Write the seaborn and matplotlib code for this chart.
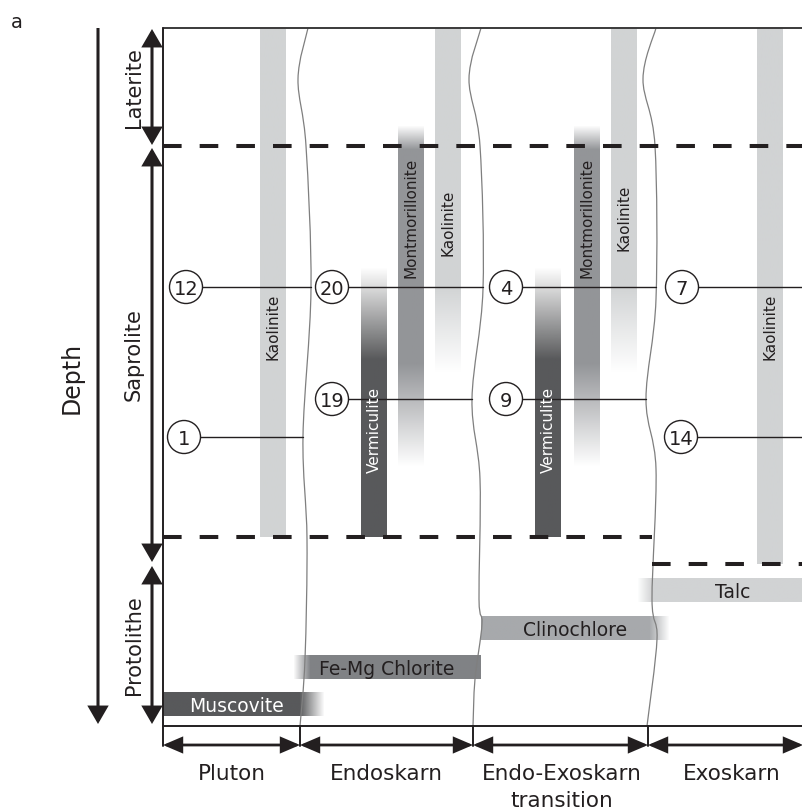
## Schematic of clay / chlorite minerals along a weathered skarn profile
import numpy as np
import matplotlib
matplotlib.use('Agg')
import matplotlib.pyplot as plt
import seaborn as sns
from matplotlib.patches import Circle, FancyArrowPatch, PathPatch
from matplotlib.path import Path
from matplotlib.colors import to_rgb

sns.set_style('white')
plt.rcParams['font.family'] = ['DejaVu Sans']
plt.rcParams['lines.scale_dashes'] = False

INK = '#231f20'

## zones along the bottom (x positions in px)
zone_names = ['Pluton', 'Endoskarn', 'Endo-Exoskarn\ntransition', 'Exoskarn']
zone_edges = [163, 300, 473, 648, 803]
zone_label_x = [232, 386, 562, 732]

## weathering layers (depth in px from top)
layer_names = ['Laterite', 'Saprolite', 'Protolithe']
layer_tops = [30, 149, 567]
layer_bottoms = [146, 563, 725]
layer_label_y = [88, 355, 645]

## wavy contacts between zones
contact_x = [
    [308, 298, 306, 311, 303, 307, 305, 300],
    [481, 469, 480, 483, 472, 480, 479, 482, 475, 473],
    [656, 643, 655, 656, 646, 656, 652, 657, 647],
]
contact_y = [
    [29, 80, 147, 290, 437, 540, 660, 727],
    [29, 80, 147, 290, 400, 480, 600, 625, 680, 727],
    [29, 80, 147, 300, 400, 470, 600, 640, 727],
]

## dashed layer limits
dash_y = [147, 538, 565]
dash_x0 = [163, 163, 652]
dash_x1 = [803, 652, 803]

## vertical mineral bars (depth stops with opacity)
vbar_names = ['Kaolinite', 'Vermiculite', 'Montmorillonite', 'Kaolinite',
              'Vermiculite', 'Montmorillonite', 'Kaolinite', 'Kaolinite']
vbar_left = [260, 361, 398, 435, 535, 574, 611, 757]
vbar_depth = [[29, 538], [268, 360, 538], [126, 150, 365, 468], [29, 288, 374],
              [268, 360, 538], [126, 150, 365, 468], [29, 288, 374], [29, 565]]
vbar_alpha = [[1, 1], [0, 1, 1], [0, 1, 1, 0], [1, 1, 0],
              [0, 1, 1], [0, 1, 1, 0], [1, 1, 0], [1, 1]]
vbar_color = ['#d1d3d4', '#58595b', '#939598', '#d1d3d4',
              '#58595b', '#939598', '#d1d3d4', '#d1d3d4']
vbar_text_color = [INK, 'white', INK, INK, 'white', INK, INK, INK]
vbar_text_y = [327, 430, 218, 223, 430, 218, 218, 327]

## horizontal mineral bars (x stops with opacity)
hbar_names = ['Muscovite', 'Fe-Mg Chlorite', 'Clinochlore', 'Talc']
hbar_top = [693, 656, 617, 579]
hbar_x = [[163, 300, 325], [293, 310, 481], [481, 650, 670], [637, 652, 803]]
hbar_alpha = [[1, 1, 0], [0, 1, 1], [1, 1, 0], [0, 1, 1]]
hbar_color = ['#58595b', '#808285', '#a7a9ac', '#d1d3d4']
hbar_text_color = ['white', INK, INK, INK]
hbar_text_x = [237, 387, 575, 733]

## sample points
sample_ids = ['12', '20', '4', '7', '19', '9', '1', '14']
sample_x = [186, 332, 506, 682, 332, 506, 184, 681]
sample_y = [288, 288, 288, 288, 400, 400, 438, 438]
sample_line_end = [311, 483, 656, 803, 472, 646, 303, 803]

BAR_W = 26
BAR_H = 24
R = 16.5


def catmull_path(xs, ys):
    pts = np.column_stack([xs, ys]).astype(float)
    verts = [pts[0]]
    codes = [Path.MOVETO]
    n = len(pts)
    for i in range(n - 1):
        p0 = pts[max(i - 1, 0)]
        p1 = pts[i]
        p2 = pts[i + 1]
        p3 = pts[min(i + 2, n - 1)]
        verts += [p1 + (p2 - p0) / 6, p2 - (p3 - p1) / 6, p2]
        codes += [Path.CURVE4] * 3
    return Path(verts, codes)


def arrow(ax, p0, p1, style, lw, hl, hw):
    ax.add_patch(FancyArrowPatch(p0, p1, arrowstyle=f'{style},head_length={hl},head_width={hw}',
                                 mutation_scale=1, lw=lw, color=INK, shrinkA=0, shrinkB=0,
                                 joinstyle='miter', capstyle='butt', zorder=6))


fig = plt.figure(figsize=(8.03, 8.12), dpi=100)
ax = fig.add_axes([0, 0, 1, 1])
ax.axis('off')

# vertical bars
for name, x0, dep, al, col, tcol, ty in zip(vbar_names, vbar_left, vbar_depth, vbar_alpha,
                                           vbar_color, vbar_text_color, vbar_text_y):
    ys = np.arange(dep[0], dep[-1] + 1)
    img = np.zeros((len(ys), 1, 4))
    img[..., :3] = to_rgb(col)
    img[:, 0, 3] = np.interp(ys, dep, al)
    ax.imshow(img, extent=[x0, x0 + BAR_W, dep[-1], dep[0]], origin='upper',
              aspect='auto', interpolation='bilinear', zorder=1)
    ax.text(x0 + BAR_W / 2, ty, name, rotation=90, ha='center', va='center',
            fontsize=11, color=tcol, zorder=5)

# horizontal bars
for name, top, xs, al, col, tcol, tx in zip(hbar_names, hbar_top, hbar_x, hbar_alpha,
                                           hbar_color, hbar_text_color, hbar_text_x):
    xx = np.arange(xs[0], xs[-1] + 1)
    img = np.zeros((1, len(xx), 4))
    img[..., :3] = to_rgb(col)
    img[0, :, 3] = np.interp(xx, xs, al)
    ax.imshow(img, extent=[xs[0], xs[-1], top + BAR_H, top], origin='upper',
              aspect='auto', interpolation='bilinear', zorder=1)
    ax.text(tx, top + BAR_H / 2, name, ha='center', va='center_baseline',
            fontsize=13.5, color=tcol, zorder=5)

# wavy contacts
for cx, cy in zip(contact_x, contact_y):
    ax.add_patch(PathPatch(catmull_path(cx, cy), fill=False, edgecolor='#7f7f7f',
                           lw=0.9, zorder=2))

# dashed limits
for y, x0, x1 in zip(dash_y, dash_x0, dash_x1):
    ax.plot([x0, x1], [y, y], color=INK, lw=2.9, ls=(0, (13.4, 13.0)),
            solid_capstyle='butt', dash_capstyle='butt', zorder=3)

# frame
ax.plot([163, 803], [29, 29], color='#3a3a3a', lw=1.4, zorder=4)
ax.plot([163, 803], [727, 727], color=INK, lw=1.4, zorder=4)
ax.plot([163, 163], [29, 747], color=INK, lw=1.4, zorder=4)
for x in zone_edges[1:-1]:
    ax.plot([x, x], [727, 747], color=INK, lw=1.4, zorder=4)

# sample lines and circles
for sid, sx, sy, xe in zip(sample_ids, sample_x, sample_y, sample_line_end):
    ax.plot([sx + R, xe], [sy, sy], color=INK, lw=1.0, zorder=3)
    ax.add_patch(Circle((sx, sy), R, facecolor='white', edgecolor=INK, lw=1.0, zorder=4))
    ax.text(sx, sy, sid, ha='center', va='center_baseline', fontsize=14, color=INK, zorder=5)

# zone arrows and labels (one text per line, baselines 27 px apart)
for i, name in enumerate(zone_names):
    arrow(ax, (zone_edges[i], 746), (zone_edges[i + 1], 746), '<|-|>', 2.0, 11, 4.7)
    for j, line in enumerate(name.split('\n')):
        ax.text(zone_label_x[i], 780 + 27 * j, line, ha='center', va='baseline',
                fontsize=15.5, color=INK)

# layer arrows and labels
for name, t, b, ly in zip(layer_names, layer_tops, layer_bottoms, layer_label_y):
    arrow(ax, (152, t), (152, b), '<|-|>', 2.2, 10, 5.8)
    ax.text(134, ly, name, rotation=90, ha='center', va='center', fontsize=15, color=INK)

# depth arrow
arrow(ax, (98, 29), (98, 725), '-|>', 2.2, 10, 5.8)
ax.text(72, 378, 'Depth', rotation=90, ha='center', va='center', fontsize=17, color=INK)

ax.text(17, 22, 'a', ha='center', va='center', fontsize=14, color=INK)

ax.set_xlim(0, 803)
ax.set_ylim(812, 0)

plt.savefig('out.png', dpi=100)
